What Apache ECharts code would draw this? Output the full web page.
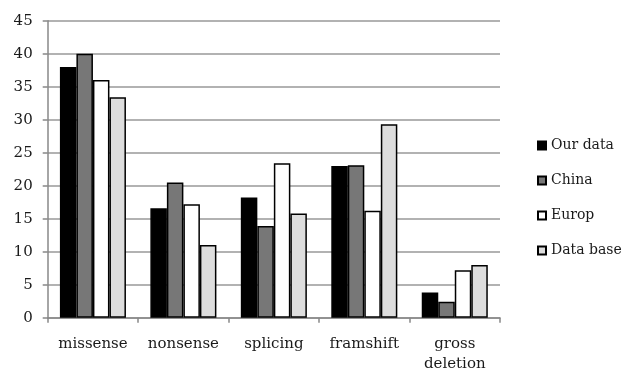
<!DOCTYPE html>
<html><head><meta charset="utf-8">
<script src="https://cdn.jsdelivr.net/npm/echarts@6/dist/echarts.min.js"></script>
<style>html,body{margin:0;padding:0;background:#fff}#c{width:624px;height:369px}</style>
</head><body><div id="c"></div>
<script>
const categories = ['missense', 'nonsense', 'splicing', 'framshift', 'gross\ndeletion'];
const ourData = [38.0, 16.6, 18.2, 23.0, 3.8];
const china = [40.0, 20.5, 13.9, 23.1, 2.4];
const europ = [36.0, 17.2, 23.4, 16.2, 7.2];
const dataBase = [33.4, 11.0, 15.8, 29.3, 8.0];
const seriesNames = ['Our data', 'China', 'Europ', 'Data base'];
const seriesValues = [ourData, china, europ, dataBase];
const colors = ['#000000', '#777777', '#ffffff', '#dddddd'];
const font = 'DejaVu Serif';
const chart = echarts.init(document.getElementById('c'));
chart.setOption({
  animation: false,
  grid: {left: 47.7, right: 124, top: 20.7, bottom: 51.3, containLabel: false, outerBoundsMode: 'none'},
  legend: {
    orient: 'vertical', left: 532, top: 133.5, itemWidth: 8, itemHeight: 8, itemGap: 21,
    icon: 'rect',
    textStyle: {fontFamily: font, fontSize: 14, color: '#1a1a1a'},
    data: seriesNames
  },
  xAxis: {
    type: 'category', data: categories,
    axisLine: {lineStyle: {color: '#888', width: 1.5}},
    axisTick: {show: true, length: 5, lineStyle: {color: '#888', width: 1.5}},
    axisLabel: {interval: 0, fontFamily: font, fontSize: 15, color: '#1a1a1a', margin: 16, lineHeight: 20}
  },
  yAxis: {
    type: 'value', min: 0, max: 45, interval: 5,
    axisLine: {show: true, lineStyle: {color: '#888', width: 1.5}},
    axisTick: {show: true, length: 5, lineStyle: {color: '#888', width: 1.5}},
    splitLine: {lineStyle: {color: '#999', width: 1.5}},
    axisLabel: {fontFamily: font, fontSize: 15, color: '#1a1a1a', margin: 15}
  },
  series: seriesValues.map((vals, i) => ({
    name: seriesNames[i], type: 'bar', data: vals,
    barGap: '0%', barCategoryGap: '27%',
    itemStyle: {color: colors[i], borderColor: '#000', borderWidth: 1.5}
  }))
});
</script></body></html>
